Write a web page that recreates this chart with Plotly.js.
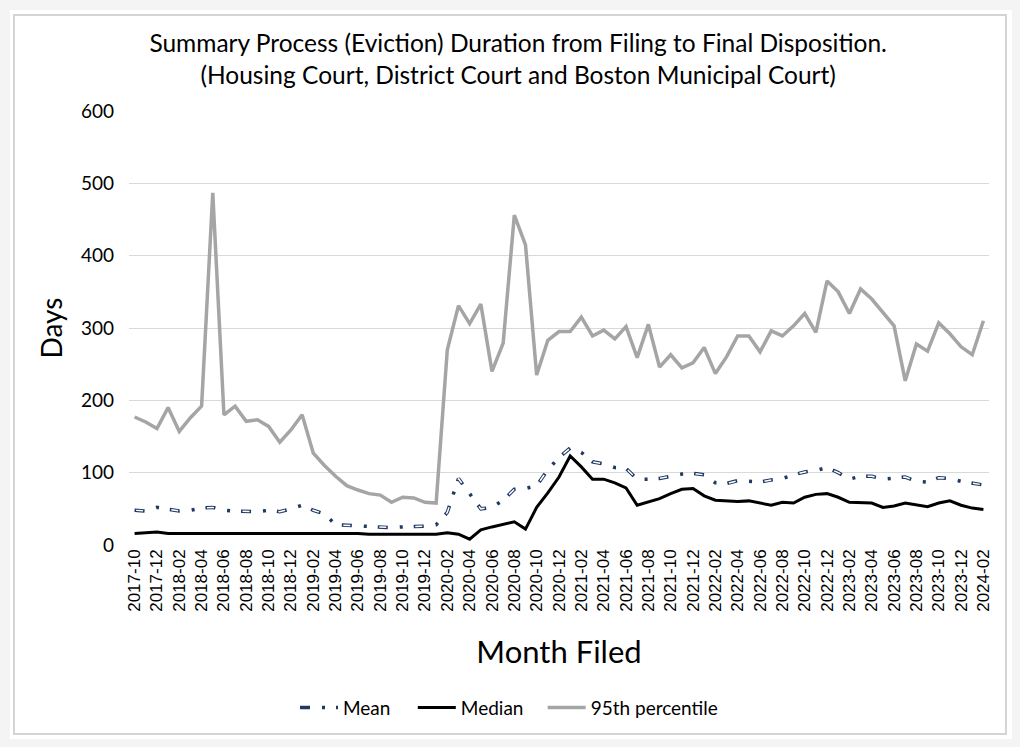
<!DOCTYPE html>
<html>
<head>
<meta charset="utf-8">
<script src="https://cdn.plot.ly/plotly-3.0.1.min.js"></script>
<style>
  html, body { margin: 0; padding: 0; background: #f4f4f4; }
  #panel { position: absolute; left: 10px; top: 10px; width: 1002px; height: 729px; background: #ffffff; }
  #frame { position: absolute; left: 13px; top: 14px; width: 990px; height: 717px; border: 2px solid #d4d4d4; }
  #chart { position: absolute; left: 0; top: 0; width: 1020px; height: 747px; }
</style>
</head>
<body>
<div id="panel"></div>
<div id="frame"></div>
<div id="chart"></div>
<script>
const months = [
  "2017-10","2017-11","2017-12",
  "2018-01","2018-02","2018-03","2018-04","2018-05","2018-06","2018-07","2018-08","2018-09","2018-10","2018-11","2018-12",
  "2019-01","2019-02","2019-03","2019-04","2019-05","2019-06","2019-07","2019-08","2019-09","2019-10","2019-11","2019-12",
  "2020-01","2020-02","2020-03","2020-04","2020-05","2020-06","2020-07","2020-08","2020-09","2020-10","2020-11","2020-12",
  "2021-01","2021-02","2021-03","2021-04","2021-05","2021-06","2021-07","2021-08","2021-09","2021-10","2021-11","2021-12",
  "2022-01","2022-02","2022-03","2022-04","2022-05","2022-06","2022-07","2022-08","2022-09","2022-10","2022-11","2022-12",
  "2023-01","2023-02","2023-03","2023-04","2023-05","2023-06","2023-07","2023-08","2023-09","2023-10","2023-11","2023-12",
  "2024-01","2024-02"
];

const meanDays = [
  48,47,52,50,47,48,51,52,48,47,46,46,48,46,50,55,48,43,28,27,27,26,24,24,25,25,26,28,
  45,92,70,50,52,62,77,78,82,104,121,134,128,115,112,107,106,91,91,92,95,98,99,97,86,85,
  89,88,87,90,92,97,101,103,107,100,91,95,95,91,93,94,88,87,93,92,88,85,83
];

const medianDays = [
  16,17,18,16,16,16,16,17,17,16,17,16,16,17,16,16,16,16,16,16,16,15,15,15,15,16,15,15,
  17,15,8,21,25,29,32,22,52,72,94,123,108,91,91,86,79,55,60,64,71,77,78,68,62,
  61,60,61,58,55,59,58,66,70,71,66,59,58,58,52,54,58,55,53,58,61,55,51,49
];

const p95Days = [
  177,170,161,190,157,176,192,487,180,192,171,173,164,142,159,180,127,110,95,82,76,71,69,59,66,65,59,58,
  270,331,306,333,240,279,456,415,235,283,295,295,315,289,297,285,302,259,305,246,263,245,252,273,237,
  260,289,289,267,296,289,303,320,294,365,350,320,354,340,321,303,227,278,268,307,292,274,263,310
];

const tickLabels = months.filter((m, i) => i % 2 === 0);

const calibriLike = "Lato, 'Open Sans', sans-serif";

const traces = [
  {
    x: months, y: meanDays, name: "Mean", type: "scatter", mode: "lines",
    line: { color: "#1f3864", width: 3.5, dash: "10px,12px,3px,11px" },
    legend: "legend"
  },
  {
    x: months, y: meanDays, name: "Mean", type: "scatter", mode: "lines",
    line: { color: "#ffffff", width: 1.5, dash: "0px,1.5px,7px,27.5px" },
    showlegend: false, hoverinfo: "skip"
  },
  {
    x: months, y: medianDays, name: "Median", type: "scatter", mode: "lines",
    line: { color: "#000000", width: 3 },
    legend: "legend2"
  },
  {
    x: months, y: p95Days, name: "95th percentile", type: "scatter", mode: "lines",
    line: { color: "#a5a5a5", width: 3.5 },
    legend: "legend3"
  }
];

function legendAt(xPos) {
  return {
    orientation: "h",
    x: xPos, xanchor: "left",
    y: -0.375, yanchor: "middle",
    itemwidth: 38,
    font: { family: calibriLike, size: 19, color: "#000000" },
    bgcolor: "rgba(0,0,0,0)"
  };
}

const layout = {
  width: 1020, height: 747,
  paper_bgcolor: "rgba(0,0,0,0)",
  plot_bgcolor: "rgba(0,0,0,0)",
  margin: { l: 129, r: 31, t: 111, b: 202 },
  title: {
    text: "Summary Process (Eviction) Duration from Filing to Final Disposition.<br>(Housing Court, District Court and Boston Municipal Court)",
    font: { family: calibriLike, size: 24.5, color: "#000000" },
    x: 0.508, xanchor: "center", xref: "container",
    y: 0.930, yanchor: "middle", yref: "container"
  },
  xaxis: {
    type: "category",
    range: [-0.5, months.length - 0.5],
    tickmode: "array",
    tickvals: tickLabels,
    ticktext: tickLabels,
    tickangle: -90,
    tickfont: { family: "'Liberation Sans', Arial, sans-serif", size: 17, color: "#000000" },
    showgrid: false, zeroline: false, showline: false, ticks: "",
    title: { text: "Month Filed", font: { family: calibriLike, size: 31, color: "#000000" }, standoff: 30 },
    automargin: false
  },
  yaxis: {
    range: [0, 600],
    dtick: 100,
    tick0: 0,
    showgrid: true, gridcolor: "#d9d9d9", gridwidth: 1,
    zeroline: false, showline: false, ticks: "",
    tickfont: { family: calibriLike, size: 19, color: "#000000" },
    ticklabelstandoff: 14,
    title: { text: "Days", font: { family: calibriLike, size: 28, color: "#000000" }, standoff: 10 },
    automargin: false
  },
  legend: legendAt(0.193),
  legend2: legendAt(0.330),
  legend3: legendAt(0.481),
  showlegend: true
};

Plotly.newPlot("chart", traces, layout, { displayModeBar: false, staticPlot: true });
</script>
</body>
</html>
